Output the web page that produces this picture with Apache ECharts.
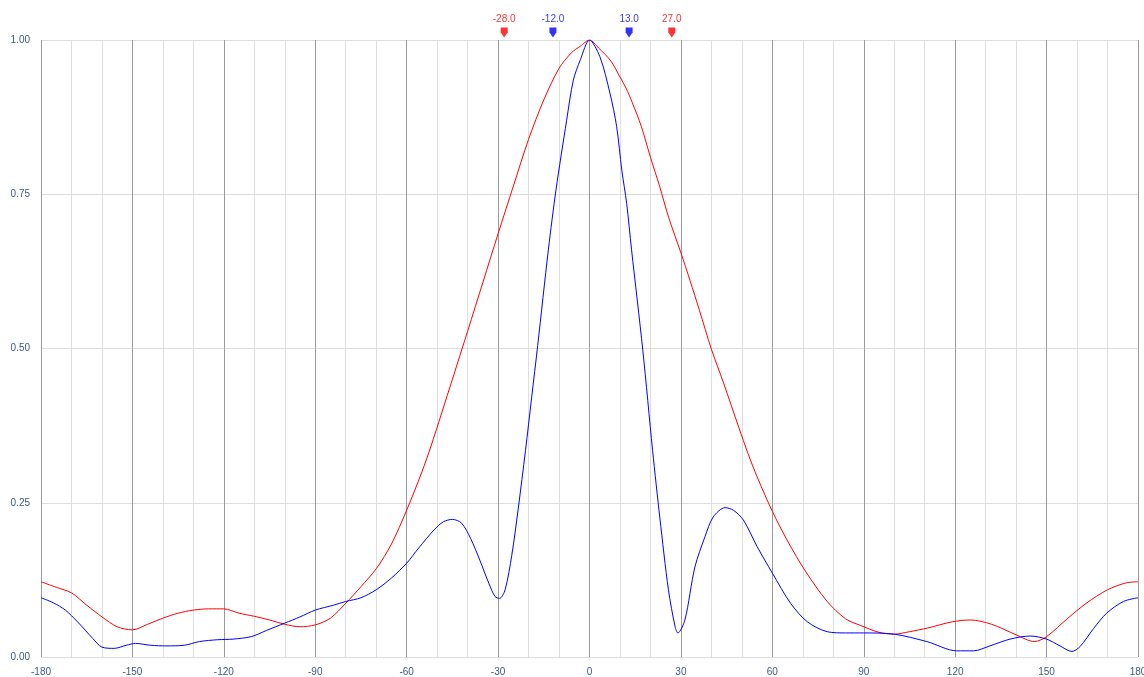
<!DOCTYPE html>
<html>
<head>
<meta charset="utf-8">
<script src="https://cdn.jsdelivr.net/npm/echarts@6/dist/echarts.min.js"></script>
<style>
html,body{margin:0;padding:0;background:#fff;overflow:hidden;}
#chart{width:1144px;height:677px;}
</style>
</head>
<body>
<div id="chart"></div>
<script>
const redAngles = [-180,-175,-170,-165,-160,-155,-150,-145,-140,-135,-130,-125,-120,-115,-110,-105,-100,-95,-90,-85,-80,-75,-70,-65,-60,-55,-52,-45,-40,-35,-30,-25,-20,-15,-10,-6,-3,0,3,7,10,12,14,17,20,23,26,30,33,36,40,44,49,52,55,60,65,71,78,84,89,95,100,105,111,119,125,132,140,146,150,157,163,170,176,180];
const redValues = [0.122,0.113,0.104,0.084,0.065,0.049,0.044,0.053,0.063,0.071,0.076,0.078,0.078,0.071,0.066,0.060,0.053,0.049,0.052,0.063,0.087,0.114,0.143,0.183,0.238,0.300,0.342,0.450,0.528,0.607,0.686,0.763,0.839,0.903,0.954,0.979,0.99,1.0,0.987,0.966,0.940,0.922,0.899,0.860,0.810,0.763,0.712,0.655,0.610,0.563,0.499,0.444,0.372,0.330,0.292,0.236,0.188,0.138,0.090,0.062,0.051,0.040,0.037,0.041,0.047,0.057,0.060,0.053,0.036,0.025,0.033,0.063,0.087,0.109,0.120,0.122];

const blueAngles = [-180,-176,-172,-168,-163,-160,-156,-152,-149,-144,-139,-133,-128,-122,-117,-111,-106,-100,-95,-90,-84,-80,-75,-70,-65,-60,-56,-51,-48,-45,-42,-39,-36,-33,-31,-29.5,-27.7,-25.5,-23.4,-21,-19,-17,-13.5,-11,-7.5,-5.3,-3,0,3.4,6.7,8.9,10.6,12.2,13.8,17.5,20.7,23.1,25.9,28.1,29,31.3,34.6,37.9,40.6,44.5,47.2,50.5,55,60,66,71.5,78,84,90,100,110.7,120.5,126,131.4,138,144.6,150,154.4,158.3,161,165.4,169.7,175.2,180];
const blueValues = [0.096,0.088,0.076,0.057,0.030,0.016,0.014,0.019,0.022,0.019,0.018,0.019,0.025,0.028,0.029,0.033,0.043,0.055,0.065,0.076,0.084,0.090,0.096,0.109,0.128,0.152,0.177,0.206,0.219,0.223,0.217,0.192,0.157,0.119,0.098,0.095,0.109,0.165,0.240,0.335,0.420,0.505,0.660,0.757,0.870,0.935,0.968,1.0,0.973,0.914,0.860,0.789,0.735,0.660,0.497,0.335,0.225,0.109,0.049,0.039,0.060,0.146,0.195,0.227,0.242,0.238,0.222,0.179,0.136,0.087,0.057,0.041,0.039,0.039,0.037,0.025,0.010,0.010,0.018,0.029,0.034,0.029,0.018,0.009,0.017,0.046,0.071,0.090,0.096];

const markerAngles = [-28, -12, 13, 27];
const markerColors = ['#ff0000', '#0000ff', '#0000ff', '#ff0000'];

const labelColor = '#3c5a8a';
const chart = echarts.init(document.getElementById('chart'));

const zip = (a, b) => a.map((v, i) => [v, b[i]]);

chart.setOption({
  animation: false,
  backgroundColor: '#ffffff',
  grid: { left: 41, right: 6, top: 40, bottom: 20, containLabel: false, outerBoundsMode: 'none' },
  xAxis: {
    type: 'value', min: -180, max: 180, interval: 30,
    axisLine: { show: false },
    axisTick: { show: false },
    axisLabel: { color: labelColor, fontSize: 10, fontFamily: 'Liberation Sans, Arial, sans-serif', margin: 10 },
    splitLine: { show: true, lineStyle: { color: '#9a9a9a', width: 1 } },
    minorTick: { show: false, splitNumber: 3 },
    minorSplitLine: { show: true, lineStyle: { color: '#dedede', width: 1 } }
  },
  yAxis: {
    type: 'value', min: 0, max: 1, interval: 0.25,
    axisLine: { show: false },
    axisTick: { show: false },
    axisLabel: { color: labelColor, fontSize: 10, fontFamily: 'Liberation Sans, Arial, sans-serif', margin: 11,
      formatter: v => v.toFixed(2) },
    splitLine: { show: true, lineStyle: { color: '#dedede', width: 1 } }
  },
  series: [
    {
      type: 'line', name: 'red', data: zip(redAngles, redValues),
      smooth: 0.3, showSymbol: false,
      lineStyle: { color: '#ff0000', width: 1 }, z: 3
    },
    {
      type: 'line', name: 'blue', data: zip(blueAngles, blueValues),
      smooth: 0.3, showSymbol: false,
      lineStyle: { color: '#0000ff', width: 1 }, z: 4
    },
    {
      type: 'scatter', name: 'markers', clip: false, z: 5,
      symbol: 'path://M0,0 L8,0 L8,5 L4,11 L0,5 Z',
      symbolSize: [7, 10],
      data: markerAngles.map((a, i) => ({
        value: [a, 1.012],
        itemStyle: { color: markerColors[i] },
        label: { show: true, position: 'top', distance: 3, formatter: a.toFixed(1),
          color: markerColors[i], fontSize: 10, fontFamily: 'Liberation Sans, Arial, sans-serif' }
      }))
    }
  ]
});
</script>
</body>
</html>
